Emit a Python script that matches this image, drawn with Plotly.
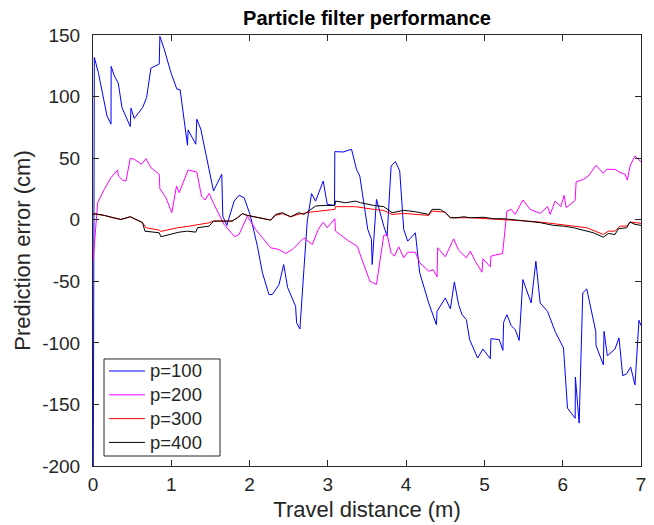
import plotly.graph_objects as go

# ---- data ----
p100_x = [0, 0.017, 0.068, 0.124, 0.179, 0.230, 0.232, 0.272, 0.323, 0.370,
          0.421, 0.476, 0.485, 0.527, 0.634, 0.685, 0.740, 0.846, 0.854, 0.909,
          0.995, 1.071, 1.113, 1.207, 1.215, 1.313, 1.326, 1.377, 1.539, 1.645,
          1.658, 1.709, 1.803, 1.866, 1.930, 2.006, 2.10, 2.164, 2.248, 2.29,
          2.376, 2.436, 2.486, 2.588, 2.601, 2.643, 2.694, 2.737, 2.792, 2.843,
          2.941, 2.992, 3.085, 3.089, 3.196, 3.302, 3.366, 3.408, 3.51, 3.557,
          3.566, 3.621, 3.714, 3.757, 3.808, 3.863, 3.918, 3.969, 4.02, 4.118,
          4.173, 4.288, 4.386, 4.395, 4.5, 4.565, 4.616, 4.67, 4.714, 4.769,
          4.811, 4.913, 4.981, 5.075, 5.083, 5.19, 5.236, 5.245, 5.287, 5.342,
          5.393, 5.444, 5.491, 5.597, 5.657, 5.712, 5.806, 5.903, 6.01, 6.061,
          6.159, 6.162, 6.21, 6.256, 6.307, 6.422, 6.426, 6.519, 6.528, 6.57,
          6.668, 6.719, 6.766, 6.817, 6.868, 6.923, 6.974, 7.0]
p100_y = [-300, 131.8, 119.6, 100.6, 84.3, 77.6, 124.5, 116.9, 110.9, 91.1,
          83.8, 75.7, 90.6, 82.2, 91.1, 99.3, 123.1, 126.4, 148.9, 138.6,
          119.6, 106.1, 105.5, 60.5, 72.9, 61.3, 81.6, 73.5, 23.3, 36.9,
          2.9, -4.6, 15.1, 19.8, 17.9, 4.3, -21.5, -43.1, -60.8, -60.8,
          -52.7, -36.4, -55, -70.3, -83.8, -88.7, -40.5, -1.1, 21.2, 15.1,
          31.4, 12.5, 11.6, 55.3, 55, 57.2, 40.9, 35.5, -7.9, -16,
          -36.4, 16.5, -5.2, -13.3, 43.6, 47.2, 39.6, -7.9, -17.4, -10.6,
          -43.1, -67.6, -85.2, -74.4, -63.5, -72.4, -50.5, -68.9, -77.1, -81.1,
          -97.4, -112.3, -105, -112.9, -96.6, -97.4, -106.1, -83.3, -77.1, -86,
          -89.3, -98, -48.6, -67.6, -33.7, -67.6, -74.4, -90.7, -104.2, -153,
          -161.2, -127.8, -165.2, -59.4, -56.2, -90.7, -102.3, -117.8, -90.7, -110.5,
          -105, -96, -126.7, -125.1, -119.7, -134.1, -81.7, -86]

p200_x = [0, 0.06, 0.144, 0.23, 0.315, 0.323, 0.378, 0.421, 0.476, 0.527,
          0.621, 0.676, 0.74, 0.846, 0.854, 0.931, 1.007, 1.067, 1.101, 1.215,
          1.326, 1.386, 1.432, 1.483, 1.539, 1.654, 1.674, 1.81, 1.866, 1.972,
          2.078, 2.27, 2.376, 2.461, 2.546, 2.694, 2.801, 2.877, 2.941, 2.992,
          3.089, 3.098, 3.268, 3.375, 3.536, 3.57, 3.621, 3.714, 3.757, 3.808,
          3.85, 3.906, 3.969, 4.02, 4.118, 4.173, 4.288, 4.344, 4.395, 4.403,
          4.5, 4.607, 4.67, 4.769, 4.82, 4.883, 4.969, 4.981, 5.075, 5.083,
          5.232, 5.287, 5.342, 5.393, 5.491, 5.584, 5.712, 5.806, 5.84, 5.903,
          5.976, 6.018, 6.044, 6.159, 6.171, 6.264, 6.328, 6.426, 6.519, 6.562,
          6.668, 6.732, 6.796, 6.826, 6.86, 6.923, 7.0]
p200_y = [-34, 13.8, 24.7, 34.2, 40.4, 35.5, 32.2, 31.4, 49.9, 49.1,
          45, 49.6, 42.3, 36.9, 25.2, 17.9, 5.7, 27.4, 22, 40.4,
          38.7, 19.2, 16, 21.4, 13.3, -2.4, -3.8, -13.8, -12, 2.9,
          -7.9, -22.8, -24.2, -27.4, -24.2, -14.7, -20.1, -7.9, -2, -6.5,
          0.8, -9.3, -17.4, -21.5, -50, -51, -52.5, -12.8, -12, -26.9,
          -29.6, -22, -30.9, -26.4, -26.4, -35, -41.8, -40.5, -46.4, -22.8,
          -30.1, -15.5, -24.7, -30.9, -25.6, -33.7, -42.6, -31.7, -38.3, -29.6,
          -27.4, 7, 8.4, 4.3, 16, 8.4, 5.1, 10.6, 4.3, 15.1,
          10.6, 19.8, 9.8, 15.7, 30.6, 32.8, 35.5, 44.2, 37.7, 40.9,
          40.9, 38.3, 36.9, 32.2, 43.6, 51.8, 47]

p300_x = [0, 0.144, 0.251, 0.357, 0.476, 0.548, 0.633, 0.676, 0.846, 0.867,
          1.08, 1.2, 1.335, 1.483, 1.539, 1.777, 1.845, 1.909, 1.972, 2.1,
          2.27, 2.333, 2.419, 2.525, 2.631, 2.78, 2.95, 3.09, 3.098, 3.25,
          3.35, 3.587, 3.714, 3.821, 3.969, 4.288, 4.331, 4.5, 4.565, 4.82,
          5.245, 5.542, 5.712, 5.967, 6.307, 6.519, 6.583, 6.668, 6.732, 6.818,
          6.86, 7.0]
p300_y = [4.9, 3.5, 1.6, 0.2, 2.4, 0.2, -2.4, -6.5, -8.5, -9.5,
          -6.5, -5.5, -3.8, -2.5, -1.1, -1.1, 1.6, 4.9, 3.5, 1.6,
          -0.3, 3.5, 4.9, 2.4, 4.5, 6.2, 7.5, 8.4, 10.6, 10.6,
          10.6, 8.4, 7.5, 4.3, 5.1, 3.5, 7, 6.2, 1.6, 1.6,
          0.3, -1.1, -1.9, -3.8, -6.5, -12, -9.3, -9.3, -5.2, -5.2,
          -1.9, -2.9]

p400_x = [0, 0.017, 0.144, 0.251, 0.357, 0.476, 0.548, 0.633, 0.663, 0.846,
          0.867, 1.04, 1.1, 1.207, 1.313, 1.335, 1.483, 1.539, 1.675, 1.777,
          1.845, 1.909, 1.972, 2.1, 2.27, 2.333, 2.419, 2.525, 2.631, 2.694,
          2.78, 2.843, 2.95, 3.09, 3.098, 3.226, 3.353, 3.417, 3.587, 3.714,
          3.821, 3.969, 4.118, 4.288, 4.331, 4.437, 4.5, 4.565, 4.65, 4.735,
          4.82, 4.99, 5.118, 5.245, 5.415, 5.542, 5.712, 5.882, 6.01, 6.137,
          6.264, 6.392, 6.519, 6.583, 6.668, 6.711, 6.818, 6.86, 6.923, 7.0]
p400_y = [3.5, 4.9, 3.5, 1.6, 0.2, 2.4, 0.2, -2.4, -9.3, -10.6,
          -13.8, -11.2, -10.1, -9.3, -10.1, -6.5, -5.2, -1.1, -1.1, -1.1,
          1.6, 4.9, 3.5, 1.6, -0.3, 4.3, 5.7, 2.4, 5.7, 4.3,
          8.4, 11.1, 11.6, 11.6, 15.1, 13.8, 15.1, 13.8, 11.6, 10.6,
          5.7, 7.6, 6.5, 4.3, 8.4, 8.4, 5.7, 1.6, 1.6, 2.4,
          1.6, 2.0, 0.8, 0.8, -0.3, -1.1, -2.4, -4.6, -5.2, -6.5,
          -8.5, -10.6, -14.2, -11.2, -12, -7.3, -6.5, -1.9, -3.8, -4.6]

series_names = ["p=100", "p=200", "p=300", "p=400"]
series_colors = ["#0000ff", "#ff00ff", "#ff0000", "#000000"]
x_ticks = [0, 1, 2, 3, 4, 5, 6, 7]
y_ticks = [-200, -150, -100, -50, 0, 50, 100, 150]

FONT = "Liberation Sans, Arial, sans-serif"
TXT = "#262626"

fig = go.Figure()
for name, color, xs, ys in zip(series_names, series_colors,
                               [p100_x, p200_x, p300_x, p400_x],
                               [p100_y, p200_y, p300_y, p400_y]):
    fig.add_trace(go.Scatter(x=xs, y=ys, mode="lines",
                             name="<span style='font-size:18.5px'>%s</span>" % name,
                             line=dict(color=color, width=1)))

axis_common = dict(showline=True, linecolor="#262626", linewidth=1, mirror="allticks",
                   ticks="inside", ticklen=6, tickcolor="#262626", showgrid=False,
                   zeroline=False, automargin=False,
                   tickfont=dict(family=FONT, size=19, color=TXT))

# legend frame (MATLAB-style box behind the legend entries)
fig.add_shape(type="rect", xref="paper", yref="paper",
              x0=0.0201, x1=0.2318, y0=0.0232, y1=0.2483,
              line=dict(color="#262626", width=1), fillcolor="white", layer="above")

fig.update_layout(
    width=654, height=525,
    margin=dict(l=93, r=13, t=35, b=59),
    paper_bgcolor="white", plot_bgcolor="white",
    title=dict(text="<b>Particle filter performance</b>", x=0.5, xref="paper",
               xanchor="center", y=1 - 18 / 525, yref="container", yanchor="middle",
               font=dict(family=FONT, size=20, color="#000000")),
    xaxis=dict(range=[0, 7], tickvals=x_ticks, ticktext=[str(v) for v in x_ticks],
               ticklabelstandoff=1,
               title=dict(text="Travel distance (m)", standoff=7,
                          font=dict(family=FONT, size=22, color=TXT)),
               **axis_common),
    yaxis=dict(range=[-200, 150], tickvals=y_ticks, ticktext=[str(v) for v in y_ticks],
               ticklabelstandoff=8,
               title=dict(text="Prediction error (cm)", standoff=5,
                          font=dict(family=FONT, size=22, color=TXT)),
               **axis_common),
    legend=dict(x=0.02, y=0.2596, xanchor="left", yanchor="top",
                bgcolor="rgba(0,0,0,0)", borderwidth=0, itemwidth=36,
                font=dict(family=FONT, size=16, color=TXT),
                tracegroupgap=0),
    showlegend=True,
)

fig.write_html("out.html")
